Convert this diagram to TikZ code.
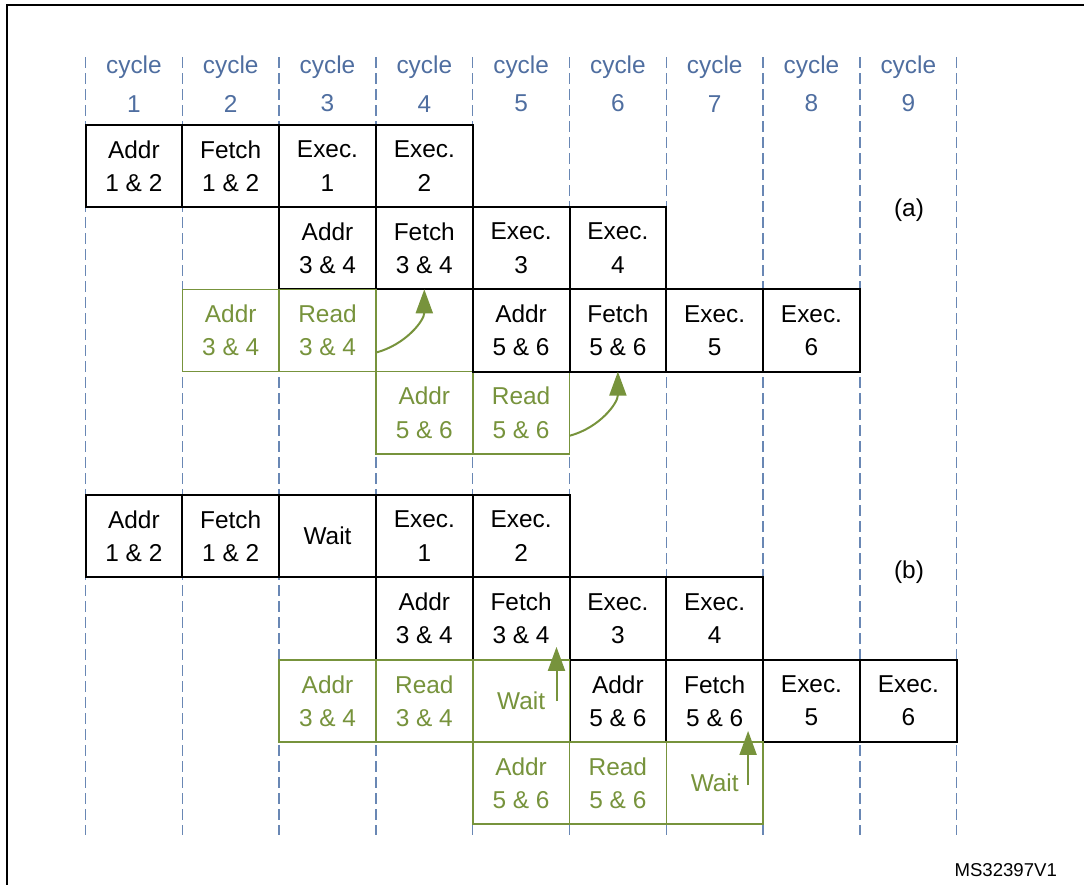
\documentclass[tikz,border=0pt]{standalone}
\usepackage{fontspec}
\setmainfont{Liberation Sans}
\usetikzlibrary{positioning,arrows.meta}
\definecolor{stgreen}{RGB}{119,147,60}
\definecolor{stblue}{RGB}{79,110,160}
\definecolor{gridblue}{RGB}{105,135,180}
\tikzset{
  cell/.style={draw=black, line width=1pt, fill=white, minimum width=48.4pt, minimum height=41.1pt,
    inner sep=0pt, outer sep=0pt, align=center, font=\fontsize{12.2}{16.7}\selectfont},
  gcell/.style={cell, draw=stgreen, text=stgreen, line width=0.8pt},
  cyc/.style={text=stblue, align=center, font=\fontsize{12.2}{19.2}\selectfont},
  gridline/.style={draw=gridblue, line width=0.65pt, dash pattern=on 5.5pt off 2.5pt},
  garrow/.style={draw=stgreen, line width=1pt, -{Triangle[length=12pt,width=8.5pt]}}
}
\begin{document}
\begin{tikzpicture}[x=0.5pt,y=-0.5pt,node distance=0pt]
\useasboundingbox (0,0) rectangle (1084,885);
\clip (0,0) rectangle (1084,885);
\draw[line width=1.3pt] (7,900) -- (7,5) -- (1100,5);
\foreach \i in {0,...,9}
  \draw[gridline] ({85.5+96.8*\i},57) -- ({85.5+96.8*\i},835);
\foreach \c in {1,...,9}
  \node[cyc] (cyc\c) at ({133.9+96.8*(\c-1)},84) {cycle\\\c};

\node[cell] (addr12a) at (133.9,166) {Addr\\1 \& 2};
\node[cell, right=of addr12a] (fetch12a) {Fetch\\1 \& 2};
\node[cell, right=of fetch12a] (exec1a) {Exec.\\1};
\node[cell, right=of exec1a] (exec2a) {Exec.\\2};
\node[cell] (addr34a) at (327.5,248.2) {Addr\\3 \& 4};
\node[cell, right=of addr34a] (fetch34a) {Fetch\\3 \& 4};
\node[cell, right=of fetch34a] (exec3a) {Exec.\\3};
\node[cell, right=of exec3a] (exec4a) {Exec.\\4};
\node[gcell] (gaddr34a) at (230.7,330.5) {Addr\\3 \& 4};
\node[gcell, right=of gaddr34a] (read34a) {Read\\3 \& 4};
\node[gcell] (gaddr56a) at (424.3,412.7) {Addr\\5 \& 6};
\node[gcell, right=of gaddr56a] (read56a) {Read\\5 \& 6};
\node[cell] (addr56a) at (521.1,330.5) {Addr\\5 \& 6};
\node[cell, right=of addr56a] (fetch56a) {Fetch\\5 \& 6};
\node[cell, right=of fetch56a] (exec5a) {Exec.\\5};
\node[cell, right=of exec5a] (exec6a) {Exec.\\6};
\draw[garrow] ([yshift=9.5pt]read34a.south east) to[out=15,in=-90] (fetch34a.south);
\draw[garrow] ([yshift=9pt]read56a.south east) to[out=15,in=-90] (fetch56a.south);
\node[font=\fontsize{12.2}{14}\selectfont] (lbla) at (909,210) {(a)};

\node[cell] (addr12b) at (133.9,536) {Addr\\1 \& 2};
\node[cell, right=of addr12b] (fetch12b) {Fetch\\1 \& 2};
\node[cell, right=of fetch12b] (waitb) {Wait};
\node[cell, right=of waitb] (exec1b) {Exec.\\1};
\node[cell, right=of exec1b] (exec2b) {Exec.\\2};
\node[cell] (addr34b) at (424.3,618.5) {Addr\\3 \& 4};
\node[cell, right=of addr34b] (fetch34b) {Fetch\\3 \& 4};
\node[cell, right=of fetch34b] (exec3b) {Exec.\\3};
\node[cell, right=of exec3b] (exec4b) {Exec.\\4};
\node[cell] (addr56b) at (617.9,701) {Addr\\5 \& 6};
\node[cell, right=of addr56b] (fetch56b) {Fetch\\5 \& 6};
\node[cell, right=of fetch56b] (exec5b) {Exec.\\5};
\node[cell, right=of exec5b] (exec6b) {Exec.\\6};
\node[gcell] (gaddr34b) at (327.5,701) {Addr\\3 \& 4};
\node[gcell, right=of gaddr34b] (read34b) {Read\\3 \& 4};
\node[gcell, right=of read34b] (wait34b) {Wait};
\node[gcell] (gaddr56b) at (521.1,783) {Addr\\5 \& 6};
\node[gcell, right=of gaddr56b] (read56b) {Read\\5 \& 6};
\node[gcell, right=of read56b] (wait56b) {Wait};
\draw[garrow] ([xshift=-6.5pt]wait34b.east) -- ([xshift=-6.5pt,yshift=6.5pt]wait34b.north east);
\draw[garrow] ([xshift=-7.5pt,yshift=-1pt]wait56b.east) -- ([xshift=-7.5pt,yshift=5.5pt]wait56b.north east);
\node[font=\fontsize{12.2}{14}\selectfont] (lblb) at (909,572) {(b)};

\node[anchor=east, font=\fontsize{9.3}{11}\selectfont] (msref) at (1064,870) {MS32397V1};
\end{tikzpicture}
\end{document}
